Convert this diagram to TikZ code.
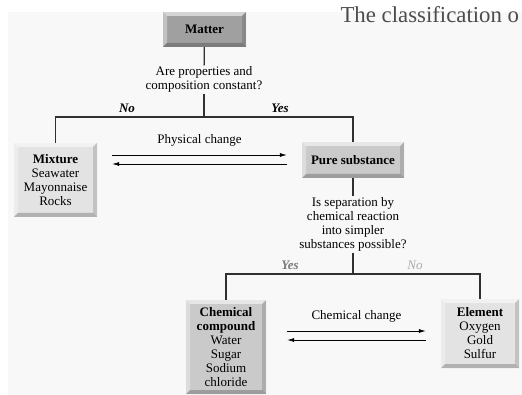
\documentclass[tikz,border=0pt]{standalone}
\usepackage{fontspec}
\setmainfont{Liberation Serif}
\usetikzlibrary{arrows.meta, calc}

\definecolor{panel}{HTML}{F8F8F8}
\definecolor{darkfill}{HTML}{A0A0A0}
\definecolor{midfill}{HTML}{CACACA}
\definecolor{lightfill}{HTML}{E3E3E3}
\definecolor{linegray}{HTML}{303030}
\definecolor{yesgray}{HTML}{7A7A7A}
\definecolor{nogray}{HTML}{AAAAAA}

\tikzset{
  bevel/.style={path picture={
      \fill[white,opacity=.55] (path picture bounding box.north west) -- (path picture bounding box.north east)
        -- ([shift={(-4pt,-4pt)}]path picture bounding box.north east) -- ([shift={(4pt,-4pt)}]path picture bounding box.north west) -- cycle;
      \fill[white,opacity=.35] (path picture bounding box.north west) -- ([shift={(4pt,-4pt)}]path picture bounding box.north west)
        -- ([shift={(4pt,4pt)}]path picture bounding box.south west) -- (path picture bounding box.south west) -- cycle;
      \fill[black,opacity=.22] (path picture bounding box.south west) -- ([shift={(4pt,4pt)}]path picture bounding box.south west)
        -- ([shift={(-4pt,4pt)}]path picture bounding box.south east) -- (path picture bounding box.south east) -- cycle;
      \fill[black,opacity=.14] (path picture bounding box.south east) -- ([shift={(-4pt,4pt)}]path picture bounding box.south east)
        -- ([shift={(-4pt,-4pt)}]path picture bounding box.north east) -- (path picture bounding box.north east) -- cycle;
    }},
  box/.style={bevel, align=center, inner sep=0pt, font=\fontsize{13}{14}\selectfont},
  question/.style={align=center, inner sep=1pt, font=\fontsize{13}{14}\selectfont},
  branch/.style={font=\fontsize{13}{14}\selectfont\bfseries\itshape},
  tree/.style={draw=linegray, line width=1.3pt},
  arr/.style={->, line width=.7pt},
}

\begin{document}
\begin{tikzpicture}[x=1pt, y=-1pt, >={Latex[length=7pt,width=4pt]}]
    \useasboundingbox (0,0) rectangle (522,395);
    \fill[white] (0,0) rectangle (522,395);
    \fill[panel] (8,12) rectangle (522,395);

    \node[anchor=base west, text=black!70, font=\fontsize{22.8}{23}\selectfont] (title) at (337,23) {The classification o};

    % boxes
    \node[box, fill=darkfill, minimum width=83pt, minimum height=35pt] (matter) at (204.5,29.5) {\textbf{Matter}};
    \node[box, fill=lightfill, minimum width=83pt, minimum height=74pt] (mixture) at (55.5,180) {\textbf{Mixture}\\Seawater\\Mayonnaise\\Rocks};
    \node[box, fill=midfill, minimum width=102pt, minimum height=36pt] (pure) at (353,160) {\textbf{Pure substance}};
    \node[box, fill=midfill, minimum width=80pt, minimum height=94pt] (compound) at (226,347) {\textbf{Chemical}\\\textbf{compound}\\Water\\Sugar\\Sodium\\chloride};
    \node[box, fill=lightfill, minimum width=78pt, minimum height=69pt] (element) at (480,333.5) {\textbf{Element}\\Oxygen\\Gold\\Sulfur};

    % questions
    \node[question] (q1) at (204,79.5) {Are properties and\\composition constant?};
    \node[question] (q2) at (353,224.5) {Is separation by\\chemical reaction\\into simpler\\substances possible?};
    \coordinate (split1) at (204,117);
    \coordinate (split2) at (353,274);

    \node[branch] (no1) at (127,108) {No};
    \node[branch] (yes1) at (280,108) {Yes};
    \node[branch, text=yesgray] (yes2) at (290,265) {Yes};
    \node[font=\fontsize{13}{14}\selectfont\itshape, text=nogray] (no2) at (415,265) {No};

    % tree lines
    \draw[tree] (matter) -- (q1);
    \draw[tree] (q1) -- (split1);
    \draw[tree] (mixture.north) |- (split1) -| (pure.north);
    \draw[tree] (pure) -- (q2);
    \draw[tree] (q2) -- (split2);
    \draw[tree] (compound.north) |- (split2) -| (element.north);

    % changes
    \draw[arr] ($(pure.west -| mixture.east)+(15,-5)$) -- ($(pure.west)+(-15,-5)$)
      node[midway, above=5pt, font=\fontsize{13}{14}\selectfont] (phys) {Physical change};
    \draw[arr] ($(pure.west)+(-15,4)$) -- ($(pure.west -| mixture.east)+(15,4)$);
    \draw[arr] ($(element.west -| compound.east)+(21,-2.5)$) -- ($(element.west)+(-15,-2.5)$)
      node[midway, above=5pt, font=\fontsize{13}{14}\selectfont] (chem) {Chemical change};
    \draw[arr] ($(element.west)+(-15,6.5)$) -- ($(element.west -| compound.east)+(21,6.5)$);
\end{tikzpicture}
\end{document}
